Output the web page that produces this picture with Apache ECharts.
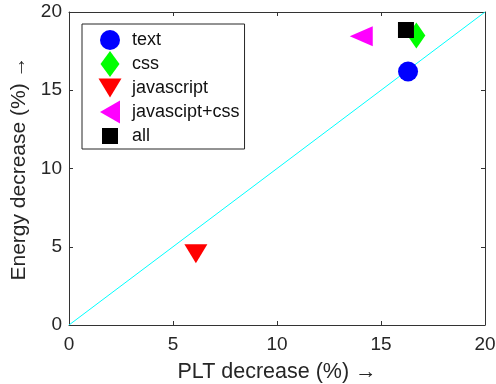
<!DOCTYPE html>
<html><head><meta charset="utf-8">
<script src="https://cdn.jsdelivr.net/npm/echarts@6/dist/echarts.min.js"></script>
<style>html,body{margin:0;padding:0;background:#fff}#c{width:496px;height:384px}</style>
</head><body><div id="c"></div>
<script>
const seriesNames = ['text', 'css', 'javascript', 'javascipt+css', 'all'];
const pltDecrease = [16.3, 16.7, 6.1, 14.05, 16.2];
const energyDecrease = [16.2, 18.5, 4.55, 18.45, 18.85];
const refLine = [[0, 0], [20, 20]];
const tickValues = [0, 5, 10, 15, 20];
const xTitle = 'PLT decrease (%) \u2192';
const yTitle = 'Energy decrease (%) \u2192';

const colors = ['#0000ff', '#00ff00', '#ff0000', '#ff00ff', '#000000'];
const symbols = ['circle', 'diamond', 'triangle', 'triangle', 'rect'];
const rotates = [0, 0, 180, 90, 0];
const sizes = [[20, 20], [18, 26], [23, 19], [20, 23], [16, 16]];
const frame = 'path://M0,0 M24,26 ';
const legendIcons = [
  frame + 'M2,13 A10,10 0 1,1 22,13 A10,10 0 1,1 2,13 Z',
  frame + 'M12,0 L21.5,13 L12,26 L2.5,13 Z',
  frame + 'M0.5,3.5 L23.5,3.5 L12,22.5 Z',
  frame + 'M22,1.5 L22,24.5 L2,13 Z',
  frame + 'M4,5 L20,5 L20,21 L4,21 Z'
];

const axisColor = '#333333';
const font = 'Liberation Sans, Arial, sans-serif';

const chart = echarts.init(document.getElementById('c'), null, {renderer: 'canvas'});
const baseAxis = {
  min: 0, max: 20, interval: 5, type: 'value',
  splitLine: {show: false},
  axisLine: {show: true, onZero: false, lineStyle: {color: axisColor, width: 1}},
  axisTick: {show: true, inside: true, length: 4, lineStyle: {color: axisColor}},
};
const series = seriesNames.map((n, i) => ({
  name: n, type: 'scatter',
  data: [[pltDecrease[i], energyDecrease[i]]],
  symbol: symbols[i], symbolRotate: rotates[i], symbolSize: sizes[i],
  itemStyle: {color: colors[i], opacity: 1},
  z: 5
}));
series.unshift({
  name: 'ref', type: 'line', data: refLine, symbol: 'none',
  lineStyle: {color: '#00ffff', width: 1}, z: 3, silent: true
});
chart.setOption({
  animation: false,
  grid: {left: 69, right: 11, top: 12, bottom: 59, containLabel: false, outerBoundsMode: 'none'},
  xAxis: [
    Object.assign({}, baseAxis, {
      position: 'bottom', name: xTitle, nameLocation: 'middle', nameGap: 36,
      nameTextStyle: {fontSize: 21.5, color: '#262626', fontFamily: font},
      axisLabel: {fontSize: 19, color: '#262626', fontFamily: font, margin: 10},
    }),
    Object.assign({}, baseAxis, {position: 'top', axisLabel: {show: false}})
  ],
  yAxis: [
    Object.assign({}, baseAxis, {
      position: 'left', name: yTitle, nameLocation: 'middle', nameGap: 39,
      nameTextStyle: {fontSize: 21, color: '#262626', fontFamily: font},
      axisLabel: {fontSize: 19, color: '#262626', fontFamily: font, margin: 7},
    }),
    Object.assign({}, baseAxis, {position: 'right', axisLabel: {show: false}})
  ],
  legend: {
    show: true, orient: 'vertical', left: 82, top: 24,
    data: seriesNames.map((n, i) => ({name: n, icon: legendIcons[i], itemStyle: {color: colors[i]}})),
    itemWidth: 24, itemHeight: 26, itemGap: -2.0,
    padding: [3, 5, 0, 16],
    borderColor: '#262626', borderWidth: 1, backgroundColor: '#fff',
    textStyle: {fontSize: 18, color: '#111', fontFamily: font, padding: [0, 0, 0, 5]},
    borderRadius: 0
  },
  series: series
});
</script></body></html>
